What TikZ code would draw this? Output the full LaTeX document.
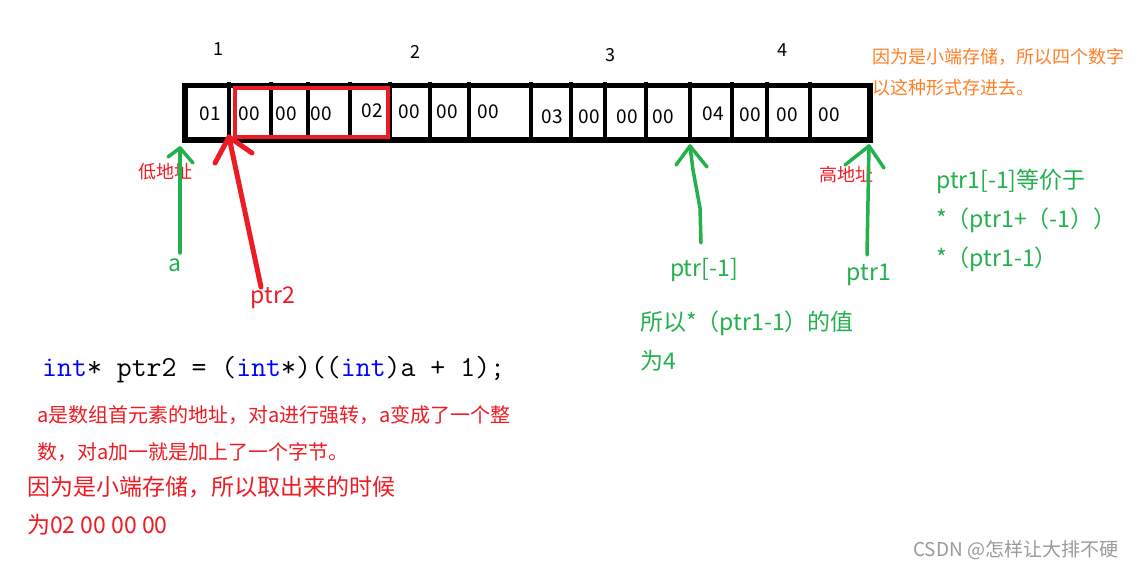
\documentclass[tikz,border=0pt]{standalone}
\usepackage{fontspec}
\setmainfont{Noto Sans CJK SC}
\definecolor{pgreen}{HTML}{22B14C}
\definecolor{pred}{HTML}{ED1C24}
\definecolor{porange}{HTML}{FF7F27}
\definecolor{pblue}{HTML}{0000FF}
\definecolor{wmgray}{HTML}{9A9A9A}
\newcommand\fsz[1]{\fontsize{#1}{#1}\selectfont}
\tikzset{
  cell/.style={inner sep=0pt, font=\fsz{19}},
  toplabel/.style={inner sep=0pt, font=\fsz{18}},
  gtext/.style={inner sep=0pt, anchor=west, text=pgreen, font=\fsz{23}},
  rtext/.style={inner sep=0pt, anchor=west, text=pred, font=\fsz{20}},
  btext/.style={inner sep=0pt, anchor=west, text=pred, font=\fsz{23}},
  otext/.style={inner sep=0pt, anchor=west, text=porange, font=\fsz{18}},
  addr/.style={inner sep=0pt, text=pred, font=\fsz{18}},
  plabel/.style={inner sep=0pt, font=\fsz{23}},
  garrow/.style={draw=pgreen, line width=3.5pt, line cap=round, line join=round},
  rarrow/.style={draw=pred, line width=5pt, line cap=round, line join=round},
  memline/.style={draw=black, line width=5.5pt},
  divider/.style={draw=black, line width=3.8pt},
}
\begin{document}
\begin{tikzpicture}[x=1pt,y=-1pt]
\useasboundingbox[fill=white] (0,0) rectangle (1140,569);

% memory strip
\draw[memline] (185,85.5) rectangle (870,140);
\foreach \dx in {229,271,308,350,390,430,469,531,571,605,646,690,732,767,810}
  \draw[divider] (\dx,82) -- (\dx,140);
\node[draw=pred, line width=4pt, inner sep=0pt, minimum width=153pt, minimum height=49pt] (redbox) at (311,113) {};

% cell values
\node[cell] (c1) at (210,114) {01};
\node[cell] (c2) at (249,114) {00};
\node[cell] (c3) at (286,114) {00};
\node[cell] (c4) at (321,114) {00};
\node[cell] (c5) at (372,111) {02};
\node[cell] (c6) at (409,112) {00};
\node[cell] (c7) at (447,112) {00};
\node[cell] (c8) at (488,112) {00};
\node[cell] (c9) at (552,117) {03};
\node[cell] (c10) at (589,117) {00};
\node[cell] (c11) at (627,117) {00};
\node[cell] (c12) at (663,117) {00};
\node[cell] (c13) at (713,114) {04};
\node[cell] (c14) at (750,115) {00};
\node[cell] (c15) at (787,115) {00};
\node[cell] (c16) at (829,115) {00};

% element numbers
\node[toplabel] (n1) at (218,49) {1};
\node[toplabel] (n2) at (415,52) {2};
\node[toplabel] (n3) at (610,55) {3};
\node[toplabel] (n4) at (782,50) {4};

% orange note
\node[otext] (o1) at (872,57) {因为是小端存储，所以四个数字};
\node[otext] (o2) at (872,88) {以这种形式存进去。};

% address labels
\node[addr] (low) at (165,172) {低地址};
\node[addr] (high) at (846,175) {高地址};

% pointer labels
\node[plabel, text=pgreen] (alab) at (175,265) {a};
\node[plabel, text=pred] (p2lab) at (273,298) {ptr2};
\node[plabel, text=pgreen] (pm1lab) at (704,270) {ptr[-1]};
\node[plabel, text=pgreen] (p1lab) at (869,275) {ptr1};

% arrow coordinates
\coordinate (atip) at (180,148);
\coordinate (atail) at (180,253);
\coordinate (p2tip) at (229,137);
\coordinate (p2tail) at (261,287);
\coordinate (pmtip) at (690,146);
\coordinate (pmtail) at (701,243);
\coordinate (p1tip) at (869,146);
\coordinate (p1tail) at (867,255);

% green arrow a
\draw[garrow] (atail) -- (atip);
\draw[garrow] (168,157) -- (atip) -- (193,163);
% red arrow ptr2
\draw[rarrow] (p2tail) -- (p2tip);
\draw[rarrow] (215,163) -- (p2tip) -- (252,153);
% green arrow ptr[-1]
\draw[garrow] (pmtail) -- (700,208) -- (693,170) -- (pmtip);
\draw[garrow] (676,165) -- (pmtip) -- (707,167);
% green arrow ptr1
\draw[garrow] (p1tail) -- (p1tip);
\draw[garrow] (845,165) -- (p1tip) -- (884,168);

% right green notes
\node[gtext] (g1) at (936,181) {ptr1[-1]等价于};
\node[gtext] (g2) at (936,220) {*（ptr1+（-1））};
\node[gtext] (g3) at (936,259) {*（ptr1-1）};
\node[gtext] (g4) at (640,323) {所以*（ptr1-1）的值};
\node[gtext] (g5) at (640,361) {为4};

% code line
\node[inner sep=0pt, anchor=west, font=\ttfamily\fsz{29}] (code) at (42,370)
  {\textcolor{pblue}{int}* ptr2 = (\textcolor{pblue}{int}*)((\textcolor{pblue}{int})a + 1);};

% red explanations
\node[rtext] (r1) at (37,415) {a是数组首元素的地址，对a进行强转，a变成了一个整};
\node[rtext] (r2) at (37,452) {数，对a加一就是加上了一个字节。};
\node[btext] (b1) at (27,487) {因为是小端存储，所以取出来的时候};
\node[btext] (b2) at (27,525) {为02 00 00 00};

% watermark
\node[inner sep=0pt, anchor=west, text=wmgray, font=\fsz{19}] (wm) at (913,550) {CSDN @怎样让大排不硬};
\end{tikzpicture}
\end{document}
